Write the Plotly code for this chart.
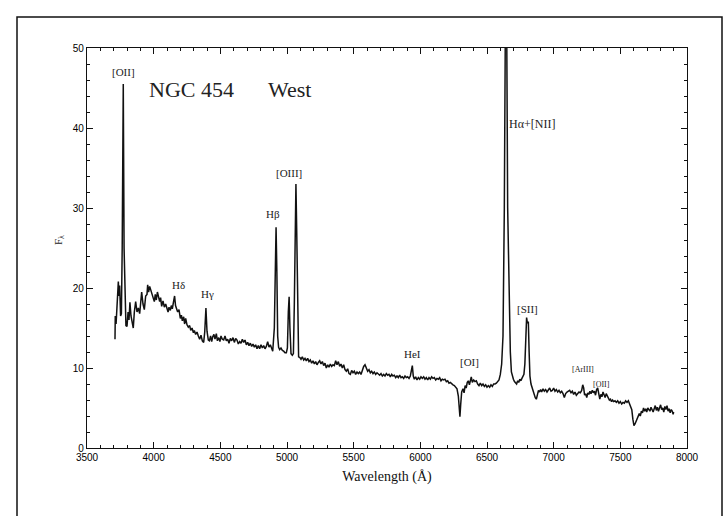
import plotly.graph_objects as go

wavelength = [3710,3712,3718,3724,3730,3735,3740,3745,3752,3758,3764,3772,3778,3785,3792,3800,3808,3815,3822,3830,3840,3847,3855,3865,3875,3885,3895,3905,3910,3920,3930,3940,3950,3955,3962,3970,3980,3990,4000,4005,4012,4020,4028,4035,4045,4052,4060,4070,4080,4090,4100,4108,4115,4125,4132,4140,4150,4157,4164,4172,4180,4190,4200,4208,4215,4225,4232,4240,4250,4260,4270,4278,4288,4298,4305,4315,4325,4335,4345,4355,4365,4375,4383,4392,4400,4410,4418,4427,4435,4443,4452,4460,4470,4478,4488,4497,4505,4515,4525,4535,4545,4555,4565,4575,4585,4595,4605,4615,4625,4635,4645,4655,4665,4675,4685,4695,4705,4715,4725,4735,4745,4755,4765,4775,4785,4795,4805,4815,4825,4835,4845,4855,4865,4875,4885,4893,4905,4912,4918,4924,4930,4937,4945,4955,4965,4975,4985,4995,5003,5010,5016,5022,5030,5040,5048,5055,5061,5067,5073,5080,5087,5097,5105,5115,5125,5135,5145,5155,5165,5175,5185,5195,5205,5215,5225,5235,5245,5255,5265,5275,5285,5295,5305,5315,5325,5335,5345,5355,5365,5375,5385,5395,5405,5415,5425,5435,5445,5455,5465,5475,5485,5495,5505,5515,5525,5535,5545,5555,5565,5575,5585,5595,5605,5615,5625,5635,5645,5655,5665,5675,5685,5695,5705,5715,5725,5735,5745,5755,5765,5775,5785,5795,5805,5815,5825,5835,5845,5855,5865,5875,5885,5895,5905,5915,5925,5933,5940,5947,5955,5965,5975,5985,5995,6005,6015,6025,6035,6045,6055,6065,6075,6085,6095,6105,6115,6125,6135,6145,6155,6165,6175,6185,6195,6205,6215,6225,6235,6245,6255,6265,6275,6285,6292,6297,6303,6310,6320,6328,6336,6344,6352,6360,6368,6376,6382,6390,6400,6410,6420,6430,6440,6450,6460,6470,6480,6490,6500,6510,6520,6530,6540,6550,6560,6570,6580,6590,6600,6610,6620,6630,6640,6646,6655,6662,6668,6675,6683,6690,6698,6706,6714,6722,6730,6738,6746,6754,6762,6770,6777,6784,6790,6797,6803,6810,6816,6822,6830,6838,6846,6854,6862,6870,6878,6886,6894,6902,6910,6920,6930,6940,6950,6960,6970,6980,6990,7000,7010,7020,7030,7040,7050,7060,7070,7080,7090,7100,7110,7120,7130,7140,7150,7160,7170,7180,7190,7200,7210,7218,7225,7232,7240,7248,7256,7264,7272,7280,7290,7298,7306,7314,7322,7330,7338,7346,7354,7362,7370,7378,7386,7394,7402,7410,7418,7426,7434,7442,7450,7460,7470,7480,7490,7500,7510,7520,7530,7540,7550,7560,7570,7578,7586,7594,7602,7610,7618,7626,7634,7642,7650,7658,7666,7674,7682,7690,7698,7706,7714,7722,7730,7738,7746,7754,7762,7770,7778,7786,7794,7802,7810,7818,7826,7834,7842,7850,7858,7866,7874,7882,7890,7896,7900]

flux = [13.6,16.5,15.5,17.8,19.5,20.8,19.0,20.3,16.5,16.8,25,45.5,25,17.0,15.3,15.2,17.0,16.0,18.2,16.5,15.8,15.0,17.0,18.3,17.0,17.5,16.8,18.5,19.5,18.0,17.3,19.0,19.2,20.4,19.5,20.2,19.6,19.0,18.7,18.3,19.2,18.5,19.5,19.0,18.3,18.8,17.7,18.4,17.6,18.0,17.3,17.0,17.6,17.2,17.8,17.4,18.4,19.0,17.8,17.4,17.0,17.3,16.2,16.6,15.9,16.4,15.5,16.2,15.4,15.1,15.3,14.7,15.0,14.4,14.7,14.2,14.5,14.0,13.6,14.1,13.4,13.2,14.5,17.5,14.6,13.5,13.4,14.0,13.3,13.9,14.2,13.6,14.3,13.4,13.8,13.3,14.0,13.6,13.5,14.0,13.4,13.6,13.1,13.7,13.4,13.8,13.2,13.7,13.5,13.0,13.3,13.1,13.6,13.2,13.5,12.9,13.2,12.8,13.1,12.7,13.0,12.6,12.9,12.4,12.8,12.4,12.9,12.5,12.8,12.4,12.7,13.3,12.6,12.9,12.3,12.1,15,24,27.6,22,14,12.6,12.3,12.5,12.2,12.1,11.9,11.9,12.5,17,18.9,15,11.8,11.6,11.8,18,29,33.0,27,15,11.4,11.3,11.1,11.4,11.0,11.2,10.9,11.2,10.8,11.0,10.6,10.9,10.5,10.8,10.4,10.7,10.9,10.5,10.8,10.3,10.6,10.0,10.4,10.1,10.5,10.2,10.4,10.3,10.9,10.4,10.8,10.2,10.5,10.0,10.4,9.8,9.6,9.9,9.3,9.2,9.7,9.4,9.6,9.2,9.5,9.3,9.5,9.2,9.8,10.2,10.4,9.9,9.6,9.8,9.4,9.6,9.3,9.5,9.2,9.4,9.3,9.1,9.3,9.0,9.2,9.0,9.3,9.1,9.2,8.9,9.2,9.0,9.1,8.8,9.0,8.8,9.1,8.8,8.9,8.7,9.0,8.8,8.9,8.7,9.0,9.6,10.3,9.0,8.6,8.9,8.5,8.8,8.6,8.9,8.7,8.9,8.6,8.8,8.5,8.8,8.6,8.9,8.7,8.8,8.5,8.7,8.6,8.8,8.4,8.6,8.5,8.6,8.3,8.4,8.1,8.2,8.0,7.9,7.8,7.6,7.4,6.5,4.8,3.9,5.5,7.0,7.4,6.9,7.8,7.5,8.2,8.4,7.9,8.5,8.9,8.2,8.5,8.3,8.4,8.0,7.8,8.1,7.8,8.0,7.7,7.9,7.6,7.8,7.6,7.9,7.7,8.0,8.0,8.1,8.3,8.5,9.2,10.5,14,30,60,58,30,23,18,12,9.5,9.0,8.6,8.3,8.2,8.0,8.4,8.2,8.6,8.4,8.7,8.9,9.2,10.5,14,16.3,15.6,15.8,12,9,8.0,7.5,7.0,6.6,6.3,6.1,6.8,7.2,7.0,7.3,7.0,7.4,7.1,7.3,7.0,7.3,7.5,7.1,7.2,7.5,7.1,7.3,7.0,7.2,6.9,7.1,6.8,6.3,6.8,7.0,7.1,7.2,6.9,7.1,6.7,7.0,6.6,6.8,7.0,6.9,7.2,7.9,7.5,6.6,6.8,6.3,6.9,6.7,7.1,6.8,7.2,6.9,7.1,6.6,7.3,7.5,6.8,6.1,6.7,6.4,7.0,6.6,6.3,6.8,6.5,6.3,6.0,6.1,5.8,6.0,5.8,5.9,5.7,5.9,5.6,5.8,5.5,5.7,5.6,5.9,5.7,5.9,5.5,5.3,4.8,3.6,2.8,3.0,3.3,3.6,3.9,4.3,4.0,4.6,4.4,5.0,4.6,4.9,4.5,5.0,4.8,4.6,5.1,4.8,4.5,4.9,5.3,4.7,5.1,4.6,4.9,5.4,4.8,5.0,4.5,5.2,4.8,5.3,4.6,4.9,4.4,4.8,4.6,4.2,4.5]

line_labels = ["[OII]", "H&#948;", "H&#947;", "H&#946;", "[OIII]", "HeI", "[OI]", "H&#945;+[NII]", "[SII]", "[ArIII]", "[OII]"]
label_x = [3772, 4185, 4402, 4892, 5017, 5940, 6367, 6840, 6802, 7222, 7360]
label_y = [47.0, 20.4, 19.3, 29.3, 34.4, 11.8, 10.8, 40.5, 17.4, 9.8, 8.0]
label_size = [11, 11, 11, 11, 11, 11, 11, 12, 11, 8, 8]

x_ticks = [3500, 4000, 4500, 5000, 5500, 6000, 6500, 7000, 7500, 8000]
y_ticks = [0, 10, 20, 30, 40, 50]

fig = go.Figure()
fig.add_trace(go.Scatter(x=wavelength, y=flux, mode="lines",
                         line=dict(color="#111111", width=1.5),
                         showlegend=False, hoverinfo="skip"))

serif = "Liberation Serif"
for t, x, y, s in zip(line_labels, label_x, label_y, label_size):
    fig.add_annotation(x=x, y=y, text=t, showarrow=False,
                       font=dict(family=serif, size=s, color="#222"),
                       xanchor="center", yanchor="middle")

fig.add_annotation(x=3947, y=44.8, text="NGC 454", showarrow=False, xanchor="left",
                   yanchor="middle", font=dict(family=serif, size=22, color="#222"))
fig.add_annotation(x=4840, y=44.8, text="West", showarrow=False, xanchor="left",
                   yanchor="middle", font=dict(family=serif, size=22, color="#222"))

# y-axis label F_lambda
fig.add_annotation(xref="paper", yref="paper", x=(50 - 87) / 600, y=(448 - 240) / 400,
                   text="F<sub>&#955;</sub>", textangle=-90, showarrow=False,
                   font=dict(family=serif, size=11, color="#222"))

# outer frame
fig.add_shape(type="rect", xref="paper", yref="paper",
              x0=(17 - 87) / 600, x1=(722 - 87) / 600,
              y0=(448 - 530) / 400, y1=(448 - 17) / 400,
              line=dict(color="#111", width=1.5))

axis_common = dict(showgrid=False, zeroline=False, showline=True, linecolor="#111",
                   linewidth=1.2, ticks="inside", tickcolor="#111", mirror="ticks",
                   tickfont=dict(family="Liberation Sans", size=10, color="#000"))

fig.update_xaxes(range=[3500, 8000], tickvals=x_ticks, ticklen=6, tickwidth=1,
                 minor=dict(ticks="inside", dtick=100, tick0=3500, ticklen=3, tickcolor="#111"),
                 title=dict(text="Wavelength (&#197;)", standoff=9,
                            font=dict(family=serif, size=14, color="#111")),
                 **axis_common)
fig.update_yaxes(range=[0, 50], tickvals=y_ticks, ticklen=6, tickwidth=1,
                 minor=dict(ticks="inside", dtick=2, tick0=0, ticklen=3, tickcolor="#111"),
                 **axis_common)

fig.update_layout(width=726, height=516, margin=dict(l=87, r=39, t=48, b=68),
                  plot_bgcolor="white", paper_bgcolor="white")

fig.write_html("out.html")
